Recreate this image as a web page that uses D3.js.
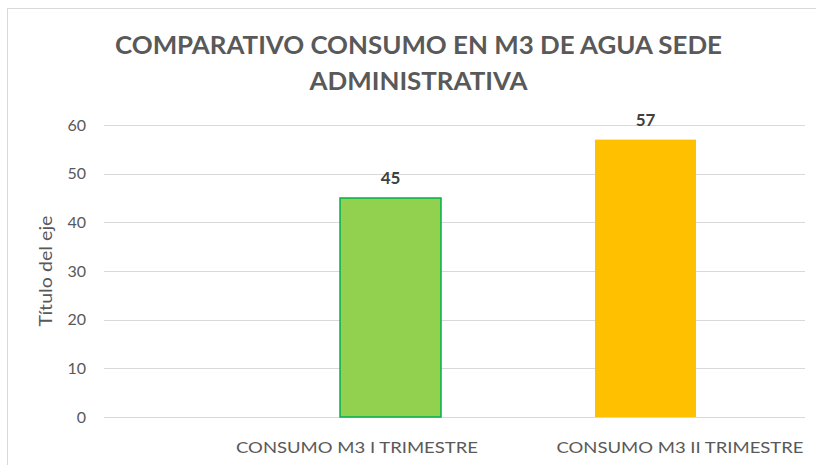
<!DOCTYPE html>
<meta charset="utf-8">
<style>
  body { margin: 0; background: #fff; }
  text { font-family: Lato, "Open Sans", sans-serif; }
</style>
<svg width="816" height="465"></svg>
<script src="https://d3js.org/d3.v7.min.js"></script>
<script>

    var categories = ["CONSUMO M3 I TRIMESTRE", "CONSUMO M3 II TRIMESTRE"];
    var values = [45, 57];
    var barFills = ["#92d050", "#ffc000"];
    var barStrokes = ["#00b050", "none"];
    var yTicks = [0, 10, 20, 30, 40, 50, 60];
    var titleLines = ["COMPARATIVO CONSUMO EN M3 DE AGUA SEDE", "ADMINISTRATIVA"];
    var yTitle = "Título del eje";

    var svg = d3.select("svg"),
        width = +svg.attr("width"),
        height = +svg.attr("height");

    var plotLeft = 104, plotRight = 805, plotTop = 125, plotBottom = 417;

    // squeeze or stretch a text to a measured width from the picture
    function fit(sel, w) {
        var len = sel.node().getComputedTextLength();
        if (Math.abs(len - w) > 2) sel.attr("textLength", w).attr("lengthAdjust", "spacingAndGlyphs");
    }

    // chart frame
    svg.append("rect")
        .attr("x", 7.5).attr("y", 8.5)
        .attr("width", width).attr("height", height)
        .attr("fill", "#fff").attr("stroke", "#d9d9d9");

    var y = d3.scaleLinear().domain([0, 60]).range([plotBottom, plotTop]);

    // bars sit off-centre in Excel's layout, so the band range is narrower than the plot
    var x = d3.scaleBand().domain(categories)
        .range([263, 773])
        .paddingInner(0.604)
        .paddingOuter(0.302);

    // labels were nudged by Excel to stay inside the plot
    var xLabel = d3.scalePoint().domain(categories).range([357, 680]);

    // gridlines
    svg.append("g").selectAll("line")
        .data(yTicks)
        .enter().append("line")
        .attr("x1", plotLeft).attr("x2", plotRight)
        .attr("y1", function(d) { return Math.round(y(d)) + 0.5; })
        .attr("y2", function(d) { return Math.round(y(d)) + 0.5; })
        .attr("stroke", "#d9d9d9")
        .attr("stroke-width", 1.2);

    // y tick labels
    svg.append("g").selectAll("text")
        .data(yTicks)
        .enter().append("text")
        .attr("x", 86)
        .attr("y", function(d) { return y(d); })
        .attr("dy", "0.35em")
        .attr("text-anchor", "end")
        .attr("font-size", 16)
        .attr("fill", "#595959")
        .text(function(d) { return d; });

    // y axis title
    svg.append("text")
        .attr("transform", "translate(52," + (plotBottom + plotTop) / 2 + ") rotate(-90)")
        .attr("text-anchor", "middle")
        .attr("font-size", 18)
        .attr("fill", "#595959")
        .text(yTitle)
        .call(fit, 111);

    // bars
    svg.append("g").selectAll("rect")
        .data(values)
        .enter().append("rect")
        .attr("x", function(d, i) { return x(categories[i]); })
        .attr("y", function(d) { return y(d); })
        .attr("width", x.bandwidth())
        .attr("height", function(d) { return y(0) - y(d); })
        .attr("fill", function(d, i) { return barFills[i]; })
        .attr("stroke", function(d, i) { return barStrokes[i]; })
        .attr("stroke-width", 1.5);

    // value labels
    svg.append("g").selectAll("text")
        .data(values)
        .enter().append("text")
        .attr("x", function(d, i) { return x(categories[i]) + x.bandwidth() / 2; })
        .attr("y", function(d) { return y(d) - 14; })
        .attr("text-anchor", "middle")
        .attr("font-size", 17)
        .attr("font-weight", "bold")
        .attr("fill", "#404040")
        .text(function(d) { return d; });

    // category labels
    var labelWidths = [242, 247];
    svg.append("g").selectAll("text")
        .data(categories)
        .enter().append("text")
        .attr("x", function(d) { return xLabel(d); })
        .attr("y", 453)
        .attr("text-anchor", "middle")
        .attr("font-size", 16)
        .attr("fill", "#595959")
        .text(function(d) { return d; })
        .each(function(d, i) { fit(d3.select(this), labelWidths[i]); });

    // title
    var titleWidths = [607, 218];
    svg.append("g").selectAll("text")
        .data(titleLines)
        .enter().append("text")
        .attr("x", 418.5)
        .attr("y", function(d, i) { return 54 + i * 36; })
        .attr("text-anchor", "middle")
        .attr("font-size", 24)
        .attr("font-weight", "bold")
        .attr("fill", "#595959")
        .text(function(d) { return d; })
        .each(function(d, i) { fit(d3.select(this), titleWidths[i]); });

</script>
